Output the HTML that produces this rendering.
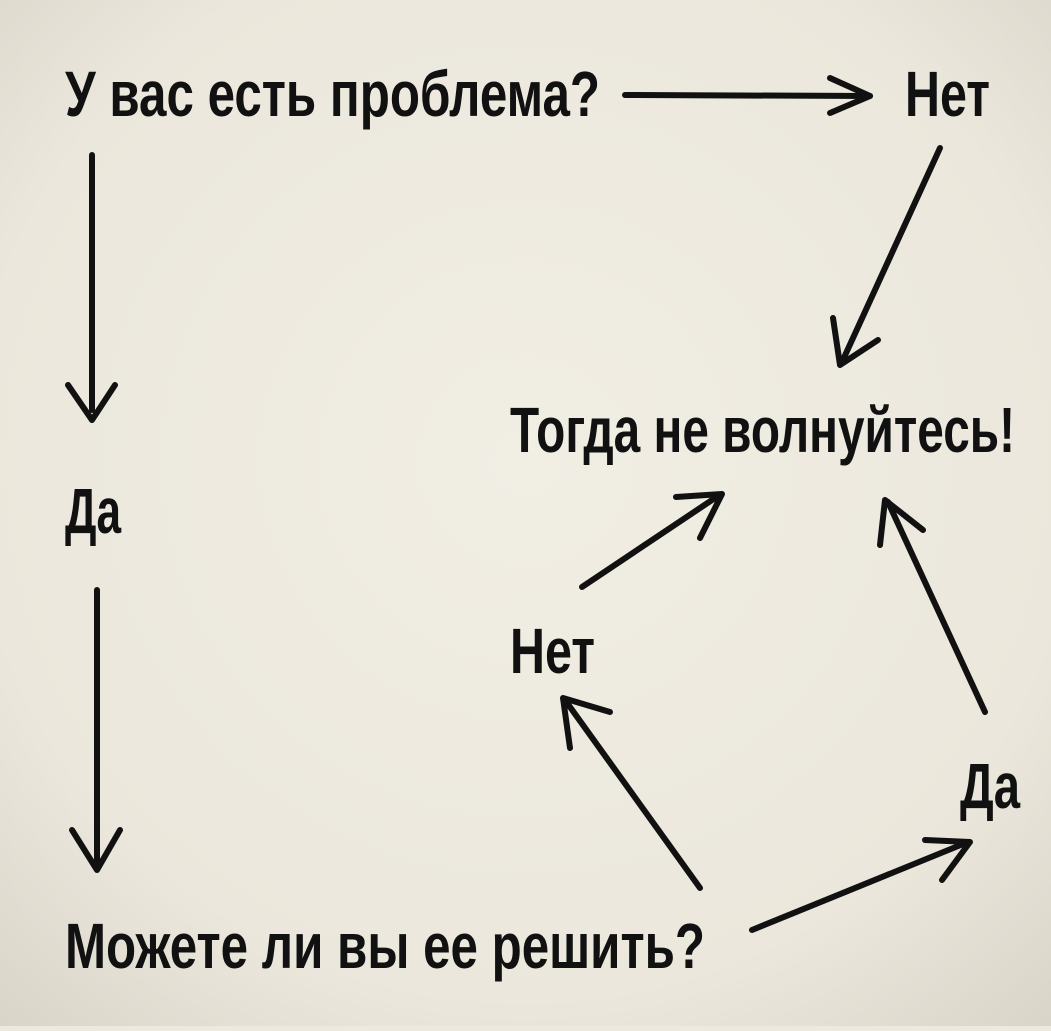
<!DOCTYPE html>
<html><head><meta charset="utf-8"><style>
html,body{margin:0;padding:0;}
body{width:1051px;height:1026px;overflow:hidden;background:#ede9de;}
</style></head><body>
<svg width="1051" height="1026" viewBox="0 0 1051 1026" xmlns="http://www.w3.org/2000/svg">
<defs>
<radialGradient id="g" cx="50%" cy="45%" r="75%">
<stop offset="0" stop-color="#f1eee4"/>
<stop offset="0.7" stop-color="#ebe7dc"/>
<stop offset="1" stop-color="#d9d4c8"/>
</radialGradient>
</defs>
<rect width="1051" height="1026" fill="url(#g)"/>
<g font-family="Liberation Sans, DejaVu Sans, sans-serif" font-size="64" font-weight="bold" fill="#111">
<text x="65" y="116" textLength="535" lengthAdjust="spacingAndGlyphs">У вас есть проблема?</text>
<text x="905" y="116" textLength="85" lengthAdjust="spacingAndGlyphs">Нет</text>
<text x="510" y="452" textLength="505" lengthAdjust="spacingAndGlyphs">Тогда не волнуйтесь!</text>
<text x="65" y="533" textLength="56" lengthAdjust="spacingAndGlyphs">Да</text>
<text x="510" y="673" textLength="85" lengthAdjust="spacingAndGlyphs">Нет</text>
<text x="960" y="808" textLength="60" lengthAdjust="spacingAndGlyphs">Да</text>
<text x="65" y="968" textLength="640" lengthAdjust="spacingAndGlyphs">Можете ли вы ее решить?</text>
</g>
<g stroke="#111" stroke-width="6" fill="none" stroke-linecap="round" stroke-linejoin="round">
<path d="M625 95 L870 96"/><path d="M830 78 L870 96 L830 113"/>
<path d="M940 148 L842 362"/><path d="M833 318 L840 365 L878 340"/>
<path d="M92 155 L92 410"/><path d="M68 385 L92 420 L115 385"/>
<path d="M97 590 L97 862"/><path d="M72 830 L97 870 L120 830"/>
<path d="M582 587 L718 496"/><path d="M676 497 L722 494 L700 538"/>
<path d="M985 712 L888 502"/><path d="M880 545 L885 500 L923 530"/>
<path d="M700 888 L565 700"/><path d="M570 748 L563 698 L610 712"/>
<path d="M752 930 L968 842"/><path d="M925 840 L970 842 L942 880"/>
</g>
</svg>
</body></html>
